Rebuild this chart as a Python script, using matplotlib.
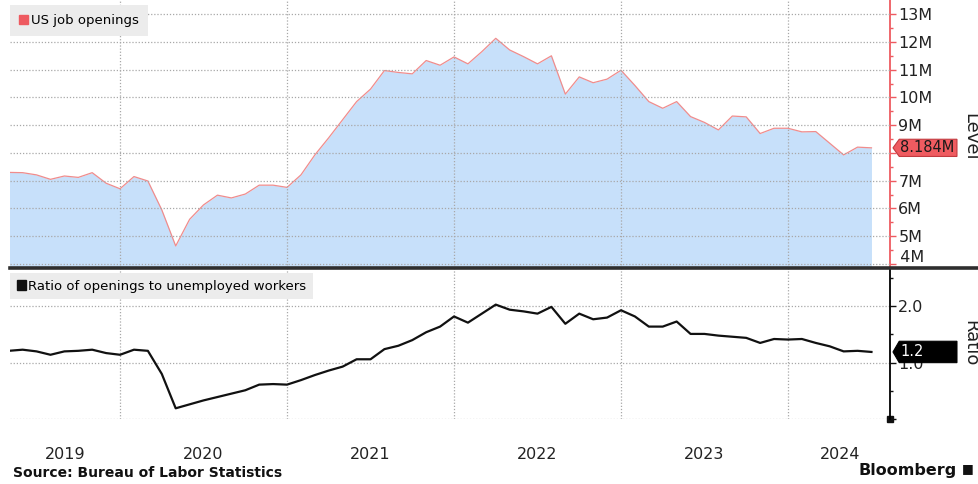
import numpy as np
import matplotlib.pyplot as plt
from matplotlib.lines import Line2D
from matplotlib.patches import Patch, Polygon
from matplotlib.transforms import blended_transform_factory

# monthly data, Apr 2019 .. Jun 2024
openings = [7.30, 7.29, 7.21, 7.05, 7.17, 7.12, 7.29, 6.91, 6.71,
            7.15, 6.99, 5.95, 4.65, 5.61, 6.13, 6.48, 6.38, 6.52, 6.84, 6.84, 6.76,
            7.21, 7.93, 8.55, 9.20, 9.85, 10.30, 10.97, 10.90, 10.85, 11.33, 11.16, 11.46,
            11.21, 11.65, 12.13, 11.71, 11.47, 11.21, 11.50, 10.12, 10.74, 10.53, 10.66, 10.98,
            10.43, 9.85, 9.61, 9.85, 9.31, 9.10, 8.83, 9.33, 9.30, 8.70, 8.89, 8.89,
            8.76, 8.77, 8.35, 7.93, 8.21, 8.184]
ratio = [1.21, 1.23, 1.20, 1.14, 1.20, 1.21, 1.23, 1.17, 1.14,
         1.23, 1.21, 0.80, 0.19, 0.26, 0.33, 0.39, 0.45, 0.51, 0.61, 0.62, 0.61,
         0.69, 0.78, 0.86, 0.93, 1.06, 1.06, 1.24, 1.30, 1.40, 1.54, 1.64, 1.82,
         1.71, 1.87, 2.03, 1.94, 1.91, 1.87, 1.99, 1.69, 1.87, 1.77, 1.80, 1.93,
         1.82, 1.64, 1.64, 1.73, 1.51, 1.51, 1.48, 1.46, 1.44, 1.35, 1.42, 1.41,
         1.42, 1.35, 1.29, 1.20, 1.21, 1.19]
months = 2019 + np.arange(4, 4 + len(openings)) / 12   # month ends

year_labels = ['2019', '2020', '2021', '2022', '2023', '2024']
year_pos = [2019.67, 2020.5, 2021.5, 2022.5, 2023.5, 2024.31]
year_lines = [2020, 2021, 2022, 2023, 2024]
level_ticks = list(range(4, 14))
level_labels = ['', '5M', '6M', '7M', '', '9M', '10M', '11M', '12M', '13M']  # 4M drawn apart, 8M under tag
ratio_ticks = [0, 1, 2]
ratio_labels = ['', '1.0', '2.0']
last_level = '8.184M'
last_ratio = '1.2'

RED = '#ee5a60'
FILL = '#c7e0fa'
GRID = '#a8a8a8'
TXT = '#222222'
XLIM = (2019.341, 2024.611)

fig = plt.figure(figsize=(9.79, 4.84), dpi=100)
ax1 = fig.add_axes([10 / 979, 1 - 268 / 484, 880 / 979, 268 / 484])
ax2 = fig.add_axes([10 / 979, 1 - 419 / 484, 880 / 979, 151 / 484])

# top panel: job openings
ax1.fill_between(months, openings, 0, color=FILL, lw=0)
ax1.plot(months, openings, color='#f08c8c', lw=0.9)
ax1.set_xlim(*XLIM)
ax1.set_ylim(3.856, 13.51)
ax1.set_xticks(year_lines)
ax1.tick_params(axis='x', length=0, labelbottom=False)
ax1.yaxis.tick_right()
ax1.set_yticks(level_ticks)
ax1.set_yticklabels(level_labels)
ax1.set_yticks(np.arange(4.5, 13.5, 1), minor=True)
ax1.tick_params(axis='y', which='both', colors=RED, labelcolor=TXT, labelsize=11.5,
                length=4, width=1, pad=2)
ax1.tick_params(axis='y', which='minor', length=2.5)
ax1.text(1.0, 4.25, '  4M', transform=blended_transform_factory(ax1.transAxes, ax1.transData),
         fontsize=11.5, color=TXT, va='center', ha='left')
for s in ['top', 'left', 'bottom']:
    ax1.spines[s].set_visible(False)
ax1.spines['right'].set_color(RED)
ax1.spines['right'].set_linewidth(1.3)
ax1.grid(axis='both', which='major', ls=(0, (1, 1.5)), color=GRID, lw=0.9)
ax1.set_axisbelow(False)
ax1.yaxis.set_label_position('right')
ax1.set_ylabel('Level', rotation=270, fontsize=13, color=TXT, va='center', ha='center')
ax1.yaxis.set_label_coords(1.091, 0.49)
leg1 = ax1.legend(handles=[Patch(color=RED)], labels=['US job openings'],
                  loc='upper left', bbox_to_anchor=(0, 1 - 5 / 268), borderaxespad=0,
                  fontsize=9.5, handlelength=0.7, handleheight=0.7, handletextpad=0.2,
                  borderpad=0.7, fancybox=False, framealpha=1)
leg1.get_frame().set_facecolor('#ececec')
leg1.get_frame().set_edgecolor('none')

# bottom panel: ratio
ax2.plot(months, ratio, color='#111111', lw=1.6)
ax2.set_xlim(*XLIM)
ax2.set_ylim(0, 2.68)
ax2.set_xticks(year_lines)
ax2.set_xticks(year_pos, minor=True)
ax2.set_xticklabels(year_labels, minor=True)
ax2.tick_params(axis='x', which='major', length=0, labelbottom=False)
ax2.tick_params(axis='x', which='minor', length=0, labelsize=11.5, labelcolor=TXT, pad=20)
ax2.yaxis.tick_right()
ax2.set_yticks(ratio_ticks)
ax2.set_yticklabels(ratio_labels)
ax2.set_yticks([0.5, 1.5, 2.5], minor=True)
ax2.tick_params(axis='y', which='both', colors='#111111', labelcolor=TXT, labelsize=11.5,
                length=4, width=1, pad=2)
ax2.tick_params(axis='y', which='minor', length=2.5)
ax2.plot([1.0], [0], marker='s', ms=4, color='#111111', clip_on=False,
         transform=blended_transform_factory(ax2.transAxes, ax2.transData))
for s in ['top', 'left', 'bottom']:
    ax2.spines[s].set_visible(False)
ax2.spines['right'].set_linewidth(1.3)
ax2.grid(axis='both', which='major', ls=(0, (1, 1.5)), color=GRID, lw=0.9)
ax2.yaxis.set_label_position('right')
ax2.set_ylabel('Ratio', rotation=270, fontsize=13, color=TXT, va='center', ha='center')
ax2.yaxis.set_label_coords(1.091, 0.5)
leg2 = ax2.legend(handles=[Patch(color='#111111')], labels=['Ratio of openings to unemployed workers'],
                  loc='upper left', bbox_to_anchor=(0, 1 - 5 / 151), borderaxespad=0,
                  fontsize=9.5, handlelength=0.7, handleheight=0.7, handletextpad=0.2,
                  borderpad=0.5, fancybox=False, framealpha=1)
leg2.get_frame().set_facecolor('#ececec')
leg2.get_frame().set_edgecolor('none')


# last value tags on the right axes
def value_tag(ax, value, half, text, fc, ec, tc):
    tr = blended_transform_factory(ax.transAxes, ax.transData)
    xs = [1.0034, 1.0105, 1.0761, 1.0761, 1.0105]
    ys = [value, value + half, value + half, value - half, value - half]
    ax.add_patch(Polygon(list(zip(xs, ys)), closed=True, transform=tr, clip_on=False,
                         fc=fc, ec=ec, lw=0.8, zorder=5))
    ax.text(1.0115, value, text, transform=tr, ha='left', va='center', fontsize=10.5,
            color=tc, zorder=6, clip_on=False)


value_tag(ax1, openings[-1], 0.31, last_level, '#ef5b60', '#c23a3f', '#1a1a1a')
value_tag(ax2, ratio[-1], 0.19, last_ratio, '#000000', '#000000', 'white')

# separator between panels
fig.add_artist(Line2D([10 / 979, 1.0], [1 - 268 / 484] * 2, transform=fig.transFigure,
                      color='#2e2e2e', lw=2.6))

fig.text(13 / 979, 1 - 473 / 484, 'Source: Bureau of Labor Statistics', fontsize=10,
         fontweight='bold', color='#111111', va='center', ha='left')
fig.text(957 / 979, 1 - 470 / 484, 'Bloomberg', fontsize=11.5, fontweight='bold',
         color='#111111', va='center', ha='right')
fig.text(968 / 979, 1 - 469 / 484, '■', fontsize=9, color='#111111', va='center', ha='center')

fig.savefig('out.png', dpi=100)
